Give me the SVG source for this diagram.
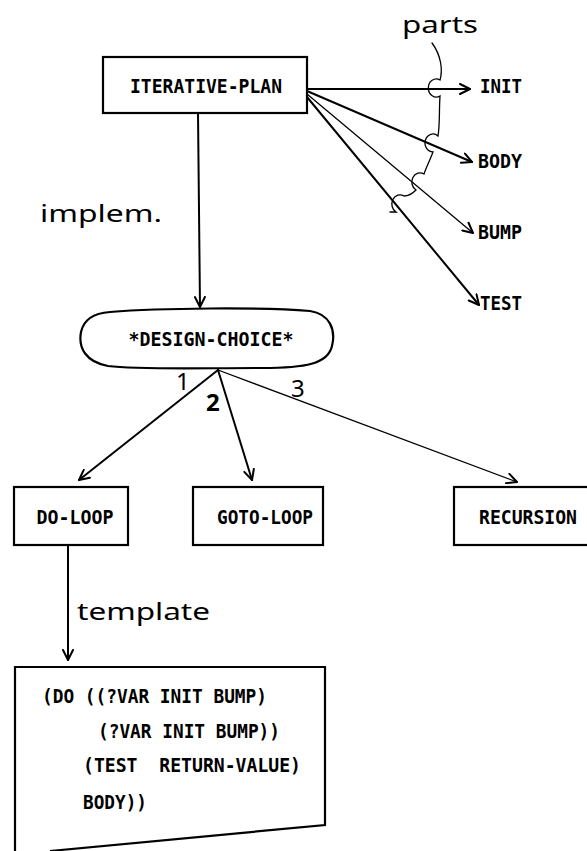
<svg xmlns="http://www.w3.org/2000/svg" width="587" height="851" viewBox="0 0 587 851">
<style>
.box{fill:none;stroke:#000;stroke-width:2.2}
.lbl{font-family:"DejaVu Sans Mono","Liberation Mono",monospace;font-weight:bold;font-size:20px;fill:#000}
.hand{font-family:"Noto Sans","DejaVu Sans",sans-serif;font-size:24px;fill:#000}
.ln{fill:none;stroke:#000;stroke-width:2;stroke-linecap:round}
.thin{fill:none;stroke:#000;stroke-width:1.3;stroke-linecap:round}
</style>
<defs>
<marker id="ah" viewBox="0 0 12 12" refX="11" refY="6" markerWidth="12" markerHeight="12" markerUnits="userSpaceOnUse" orient="auto">
<path d="M1,1 L11,6 L1,11" fill="none" stroke="#000" stroke-width="2" stroke-linecap="round" stroke-linejoin="round"/>
</marker>
</defs>
<rect width="587" height="851" fill="#fff"/>

<g id="connectors">
<line class="ln" x1="198" y1="113" x2="200" y2="307" marker-end="url(#ah)"/>
<line class="ln" x1="307" y1="89" x2="470" y2="89" marker-end="url(#ah)"/>
<line class="ln" x1="307" y1="91" x2="472" y2="162" marker-end="url(#ah)"/>
<line class="thin" x1="307" y1="94" x2="473" y2="233" marker-end="url(#ah)"/>
<line class="ln" x1="307" y1="97" x2="479" y2="305" marker-end="url(#ah)"/>
<line class="ln" x1="218" y1="370" x2="79" y2="480" marker-end="url(#ah)"/>
<line class="ln" x1="218" y1="370" x2="252" y2="480" marker-end="url(#ah)"/>
<line class="thin" x1="218" y1="370" x2="517" y2="482" marker-end="url(#ah)"/>
<line class="ln" x1="68" y1="545" x2="68" y2="660" marker-end="url(#ah)"/>
<path class="thin" d="M 432 43 C 441 55, 443 70, 440 80 A 8 9 0 1 0 440 96 C 439 110, 440 124, 438 136 A 8 9 0 1 0 433 152 C 430 160, 426 168, 424 174 A 8 9 0 1 0 416 190 C 412 194, 408 196, 404 196 A 8 9 0 1 0 396 212 L 390 212"/>
<text class="hand" x="402" y="33" textLength="76" lengthAdjust="spacingAndGlyphs">parts</text>
<text class="hand" x="40" y="222" textLength="122" lengthAdjust="spacingAndGlyphs">implem.</text>
<text class="hand" x="77" y="620" textLength="133" lengthAdjust="spacingAndGlyphs">template</text>
<text class="hand" x="176" y="390" font-size="14">1</text>
<text class="hand" x="206" y="411" font-size="17" font-weight="bold">2</text>
<text class="hand" x="291" y="397" font-size="17">3</text>
</g>

<g id="iterative-plan">
<rect class="box" x="103" y="57" width="204" height="56"/>
<text class="lbl" x="206" y="93" text-anchor="middle" textLength="152" lengthAdjust="spacingAndGlyphs">ITERATIVE-PLAN</text>
</g>

<g id="init"><text class="lbl" x="480" y="93" textLength="42" lengthAdjust="spacingAndGlyphs">INIT</text></g>
<g id="body"><text class="lbl" x="478" y="168" textLength="44" lengthAdjust="spacingAndGlyphs">BODY</text></g>
<g id="bump"><text class="lbl" x="478" y="239" textLength="44" lengthAdjust="spacingAndGlyphs">BUMP</text></g>
<g id="test"><text class="lbl" x="480" y="310" textLength="42" lengthAdjust="spacingAndGlyphs">TEST</text></g>

<g id="design-choice">
<path class="box" d="M 110 312 C 160 308, 260 307, 310 311 C 330 314, 336 330, 332 346 C 328 364, 305 368, 262 368 C 200 368, 140 370, 108 366 C 86 362, 78 348, 81 332 C 84 318, 96 313, 110 312 Z"/>
<text class="lbl" x="211" y="346" text-anchor="middle" textLength="165" lengthAdjust="spacingAndGlyphs">*DESIGN-CHOICE*</text>
</g>

<g id="do-loop">
<rect class="box" x="14" y="487" width="114" height="58"/>
<text class="lbl" x="75" y="524" text-anchor="middle" textLength="77" lengthAdjust="spacingAndGlyphs">DO-LOOP</text>
</g>

<g id="goto-loop">
<rect class="box" x="193" y="487" width="130" height="58"/>
<text class="lbl" x="265" y="524" text-anchor="middle" textLength="96" lengthAdjust="spacingAndGlyphs">GOTO-LOOP</text>
</g>

<g id="recursion">
<rect class="box" x="454" y="487" width="140" height="58"/>
<text class="lbl" x="528" y="524" text-anchor="middle" textLength="98" lengthAdjust="spacingAndGlyphs">RECURSION</text>
</g>

<g id="do-template">
<path class="box" d="M 15 855 L 15 667 L 325 667 L 325 825 L 50 851"/>
<text class="lbl" x="42" y="703" textLength="225" lengthAdjust="spacingAndGlyphs">(DO ((?VAR INIT BUMP)</text>
<text class="lbl" x="98" y="738" textLength="182" lengthAdjust="spacingAndGlyphs">(?VAR INIT BUMP))</text>
<text class="lbl" x="83" y="772" xml:space="preserve" textLength="218" lengthAdjust="spacingAndGlyphs">(TEST  RETURN-VALUE)</text>
<text class="lbl" x="83" y="809" textLength="64" lengthAdjust="spacingAndGlyphs">BODY))</text>
</g>
</svg>
